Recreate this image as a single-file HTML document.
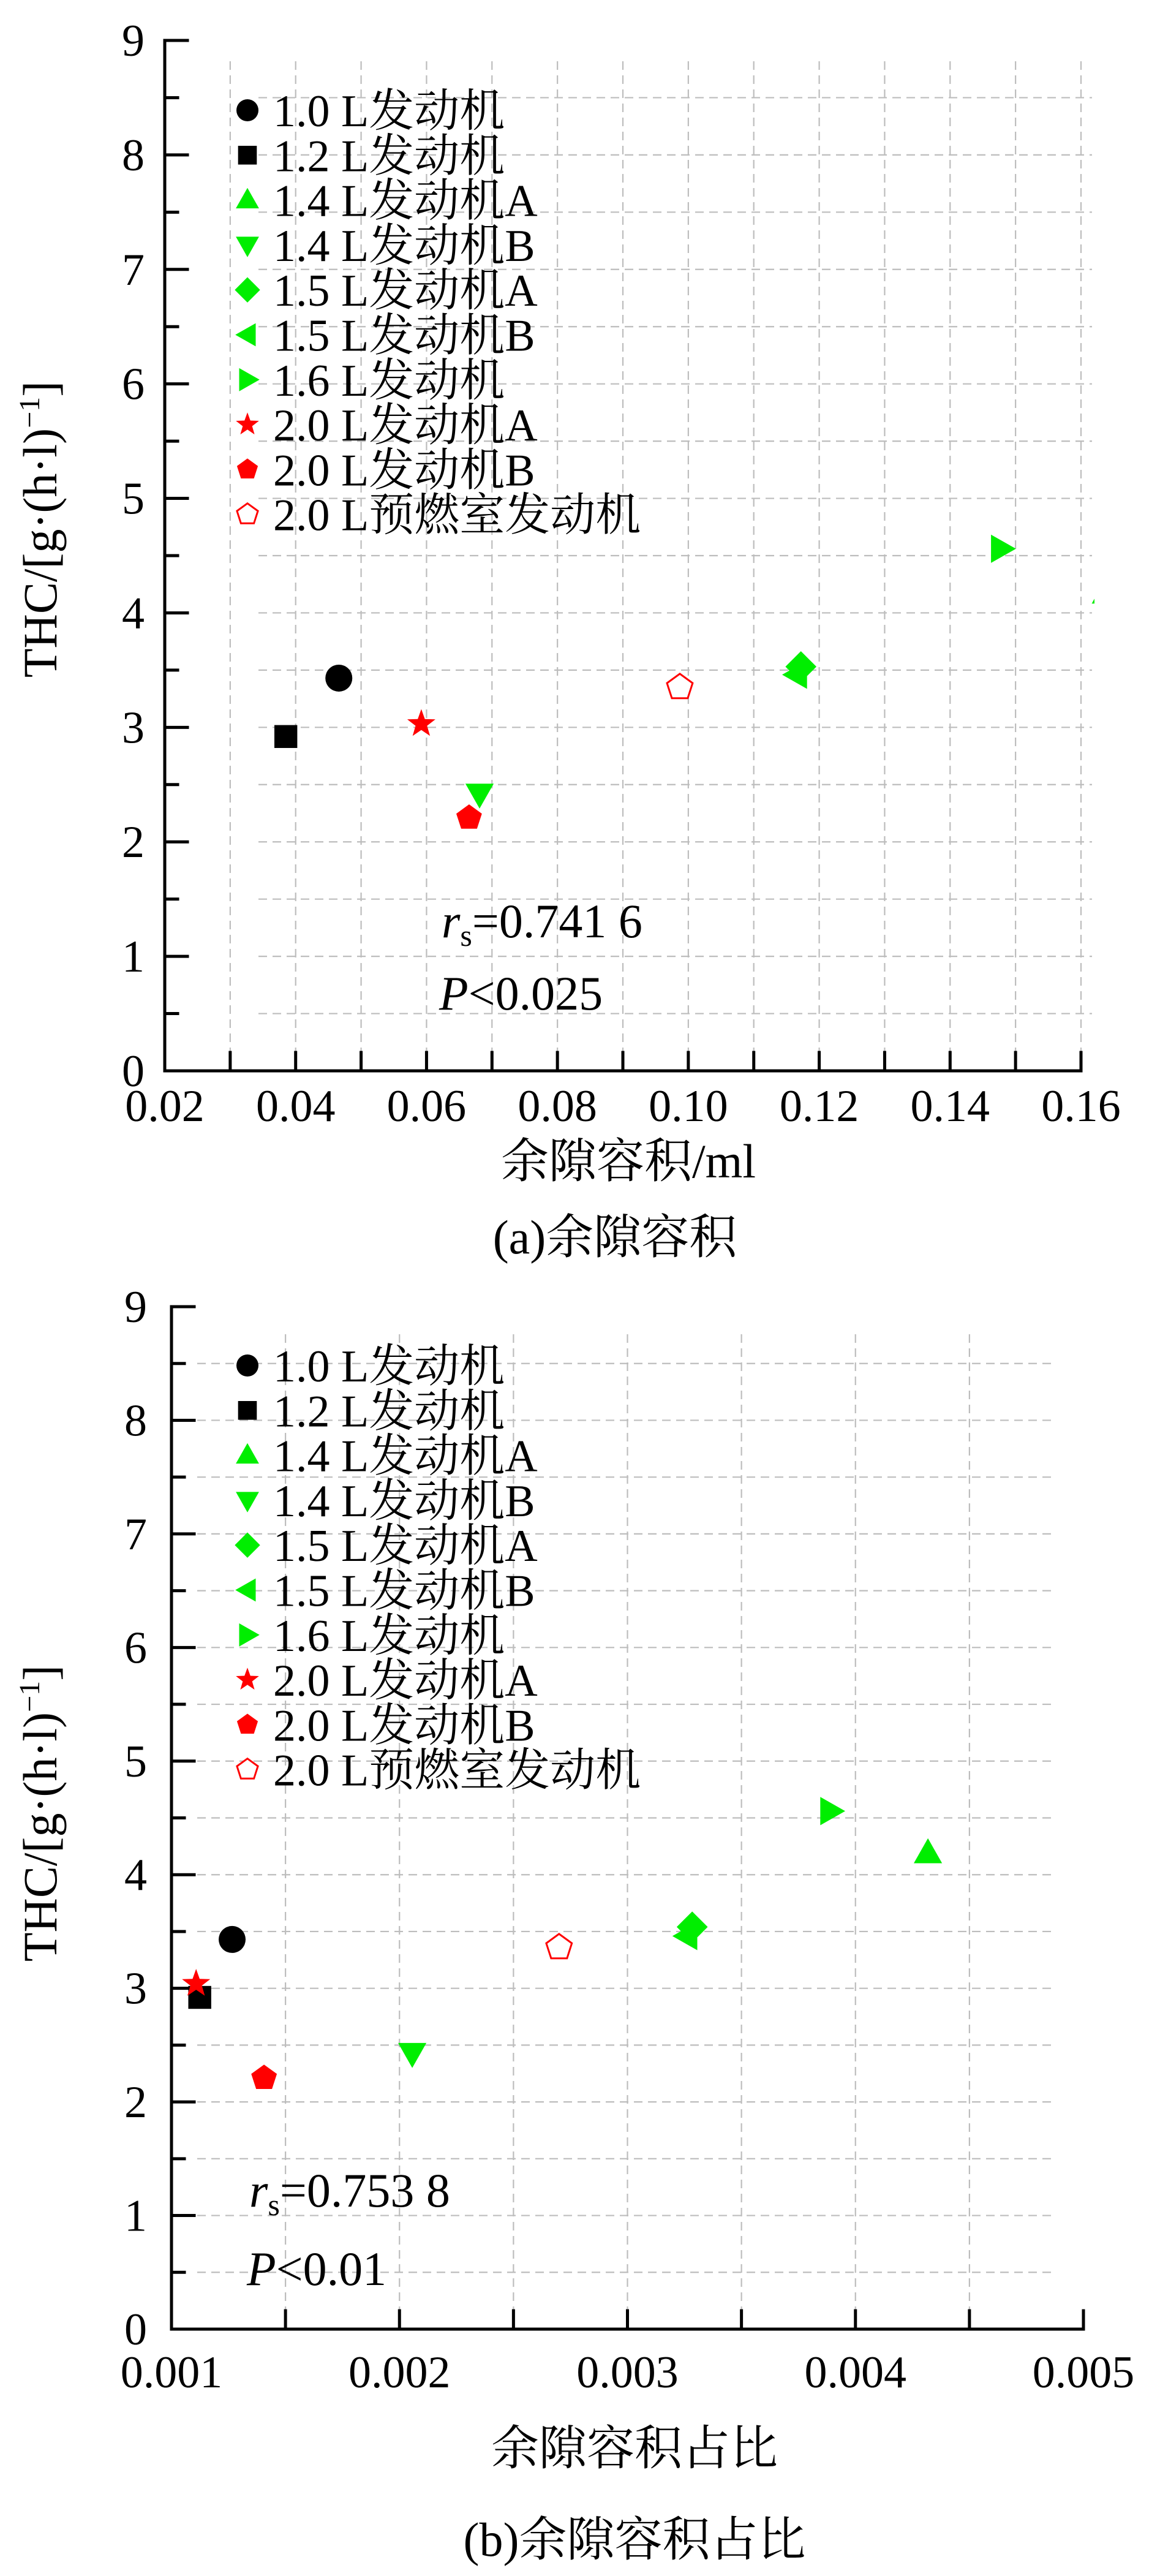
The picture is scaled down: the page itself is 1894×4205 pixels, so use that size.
<!DOCTYPE html>
<html><head><meta charset="utf-8"><style>
html,body{margin:0;padding:0;background:#fff;}
svg{display:block;font-family:"Liberation Serif","Noto Serif CJK SC",serif;}
</style></head><body>
<svg id="fig" width="1894" height="4205" viewBox="0 0 1894 4205" xmlns="http://www.w3.org/2000/svg"></svg>
<script>
// ---- data ----
const seriesNames = ["1.0 L发动机","1.2 L发动机","1.4 L发动机A","1.4 L发动机B","1.5 L发动机A","1.5 L发动机B","1.6 L发动机","2.0 L发动机A","2.0 L发动机B","2.0 L预燃室发动机"];
const seriesShapes = ["circle","square","up","down","diamond","left","right","star","pentagon","openpent"];
const thcValues = [3.43, 2.92, 4.17, 2.42, 3.53, 3.46, 4.56, 3.03, 2.21, 3.35];
const clearanceVolume = [0.0466, 0.0385, 0.1638, 0.0681, 0.1172, 0.1166, 0.1478, 0.0592, 0.0665, 0.0987];
const clearanceRatio = [0.001266, 0.001124, 0.004318, 0.002056, 0.003284, 0.003262, 0.00389, 0.001108, 0.001406, 0.0027];
const thcValuesB = [3.43, 2.92, 4.19, 2.43, 3.54, 3.46, 4.56, 3.04, 2.21, 3.36];
const xTicksA = ["0.02","0.04","0.06","0.08","0.10","0.12","0.14","0.16"];
const xTicksB = ["0.001","0.002","0.003","0.004","0.005"];
const yTicks = ["0","1","2","3","4","5","6","7","8","9"];

const NS="http://www.w3.org/2000/svg";
const svg=document.getElementById('fig');
function el(tag,attrs,parent){const e=document.createElementNS(NS,tag);for(const k in attrs)e.setAttribute(k,attrs[k]);(parent||svg).appendChild(e);return e;}
const GREEN="#00ee00", RED="#ff0000";
const colors=["#000","#000",GREEN,GREEN,GREEN,GREEN,GREEN,RED,RED,RED];

function marker(shape,cx,cy,r,color,parent){
  let p;
  if(shape==="circle") p=el('circle',{cx,cy,r,fill:color},parent);
  else if(shape==="square") p=el('rect',{x:cx-r*0.85,y:cy-r*0.85,width:r*1.7,height:r*1.7,fill:color},parent);
  else {
    let pts=[];
    if(shape==="up") pts=[[0,-1.1],[1.05,0.75],[-1.05,0.75]];
    else if(shape==="down") pts=[[0,1.1],[1.05,-0.75],[-1.05,-0.75]];
    else if(shape==="left") pts=[[-1.1,0],[0.75,-1.05],[0.75,1.05]];
    else if(shape==="right") pts=[[1.1,0],[-0.75,-1.05],[-0.75,1.05]];
    else if(shape==="diamond") pts=[[0,-1.15],[1.15,0],[0,1.15],[-1.15,0]];
    else if(shape==="star"){for(let i=0;i<10;i++){const a=-Math.PI/2+i*Math.PI/5;const rr=i%2?0.45:1.1;pts.push([Math.cos(a)*rr,Math.sin(a)*rr]);}}
    else {for(let i=0;i<5;i++){const a=-Math.PI/2+i*2*Math.PI/5;pts.push([Math.cos(a),Math.sin(a)]);}}
    const s=pts.map(q=>(cx+q[0]*r).toFixed(1)+','+(cy+q[1]*r).toFixed(1)).join(' ');
    if(shape==="openpent") p=el('polygon',{points:s,fill:'#fff',stroke:color,'stroke-width':3},parent);
    else p=el('polygon',{points:s,fill:color},parent);
  }
  return p;
}

function chart(cfg){
  const g=el('g',{});
  
  
  const X=v=>cfg.x0+(v-cfg.xmin)/(cfg.xmax-cfg.xmin)*(cfg.x1-cfg.x0);
  const Y=v=>cfg.y0-v/9*(cfg.y0-cfg.y9);
  const clipId='clip-'+cfg.name;
  const cp=el('clipPath',{id:clipId},g);
  el('rect',{x:cfg.x0,y:cfg.y9-30,width:cfg.x1-cfg.x0+22,height:cfg.y0-cfg.y9+30},cp);
  // grid
  const grid=el('g',{stroke:'#bdbdbd','stroke-width':2.2,'stroke-dasharray':'14 9',fill:'none'},g);
  
  
  for(let i=1;i<18;i++){const yy=Y(i*0.5);el('line',{x1:cfg.gx0,y1:yy,x2:cfg.gx1,y2:yy},grid);}
  const nMinor=Math.round((cfg.xmax-cfg.xmin)/cfg.minor);
  for(let i=1;i<=nMinor;i++){const xx=X(cfg.xmin+i*cfg.minor);if(xx>cfg.gvmax)continue;el('line',{x1:xx,y1:cfg.gy0,x2:xx,y2:cfg.y0},grid);}
  // axes
  const ax=el('g',{stroke:'#000','stroke-width':5,'stroke-linecap':'square',fill:'none'},g);
  
  
  el('polyline',{points:`${cfg.x0},${cfg.y9} ${cfg.x0},${cfg.y0} ${cfg.x1},${cfg.y0}`},ax);
  for(let i=0;i<=18;i++){const yy=Y(i*0.5);el('line',{x1:cfg.x0,y1:yy,x2:cfg.x0+(i%2?21:37),y2:yy},ax);}
  for(let i=1;i<=nMinor;i++){const xx=X(cfg.xmin+i*cfg.minor);el('line',{x1:xx,y1:cfg.y0,x2:xx,y2:cfg.y0-30},ax);}
  // tick labels
  yTicks.forEach((t,i)=>{const tx=el('text',{x:cfg.ylx,y:Y(+t)+25,'font-size':74,'text-anchor':'end'},g);tx.textContent=t;
    
    });
  cfg.xticks.forEach((t,i)=>{const v=+t;const tx=el('text',{x:X(v),y:cfg.xlBase,'font-size':74,'text-anchor':'middle'},g);tx.textContent=t;
    
    });
  // y title
  const yt=el('text',{x:0,y:0,'font-size':78,'text-anchor':'middle',transform:`translate(92,${cfg.ytY}) rotate(-90)`},g);
  
  
  yt.innerHTML='THC/[g·(h·l)<tspan dy="-28" font-size="48">−1</tspan><tspan dy="28">]</tspan>';
  // x title
  const xt=el('text',{x:cfg.xtX,y:cfg.xtBase,'font-size':78,'text-anchor':'middle'},g);
  xt.textContent=cfg.xtitle;
  
  
  const cap=el('text',{x:cfg.capX,y:cfg.capBase,'font-size':78,'text-anchor':'middle'},g);
  cap.textContent=cfg.caption;
  
  
  // stats
  const rs=el('text',{x:cfg.sx,y:cfg.rsBase,'font-size':78},g);
  rs.innerHTML='<tspan font-style="italic">r</tspan><tspan font-size="50" dy="14">s</tspan><tspan dy="-14">='+cfg.rs+'</tspan>';
  
  
  const pv=el('text',{x:cfg.sx-4,y:cfg.pBase,'font-size':78},g);
  pv.innerHTML='<tspan font-style="italic">P</tspan>&lt;'+cfg.p;
  
  
  // legend
  const lg=el('g',{},g);
  
  
  seriesNames.forEach((n,i)=>{
    const yy=cfg.legY+i*73.3;
    const m=marker(seriesShapes[i],404,yy,18,colors[i],lg);
    
    
    const t=el('text',{x:446,y:yy+26,'font-size':74},lg);
    t.textContent=n;
    
    
  });
  // points
  const pts=el('g',{'clip-path':`url(#${clipId})`},g);
  
  
  cfg.xs.forEach((v,i)=>{
    const m=marker(seriesShapes[i],X(v),Y(cfg.ys[i]),22,colors[i],pts);
    
    
  });
}

chart({name:'chart-a',x0:269,x1:1765,xmin:0.02,xmax:0.16,minor:0.01,y0:1748,y9:66,
  gx0:422,gx1:1783,gy0:100,gvmax:1770,xticks:xTicksA,ylx:236,xlBase:1830,
  xs:clearanceVolume,ys:thcValues,ytY:864,xtitle:'余隙容积/ml',xtX:1026,xtBase:1922,
  caption:'(a)余隙容积',capX:1004,capBase:2046,sx:721,rsBase:1530,pBase:1648,rs:'0.741 6',p:'0.025',legY:180});
chart({name:'chart-b',x0:280,x1:1769,xmin:0.001,xmax:0.005,minor:0.0005,y0:3802,y9:2133,
  gx0:322,gx1:1725,gy0:2178,gvmax:1610,xticks:xTicksB,ylx:240,xlBase:3897,
  xs:clearanceRatio,ys:thcValuesB,ytY:2960,xtitle:'余隙容积占比',xtX:1036,xtBase:4023,
  caption:'(b)余隙容积占比',capX:1036,capBase:4172,sx:407,rsBase:3602,pBase:3730,rs:'0.753 8',p:'0.01',legY:2229});
</script>
</body></html>
